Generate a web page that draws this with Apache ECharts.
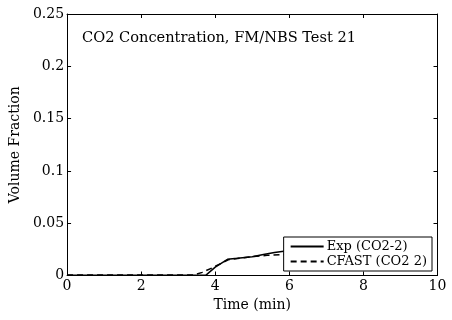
<!DOCTYPE html>
<html><head><meta charset="utf-8">
<script src="https://cdn.jsdelivr.net/npm/echarts@6/dist/echarts.min.js"></script>
<style>html,body{margin:0;padding:0;background:#fff}#c{width:452px;height:320px}</style>
</head><body><div id="c"></div>
<script>
const titleText = 'CO2 Concentration, FM/NBS Test 21';
const xLabel = 'Time (min)';
const yLabel = 'Volume Fraction';
const expName = 'Exp (CO2-2)';
const cfastName = 'CFAST (CO2 2)';
const expTime = [0, 1, 2, 3, 3.5, 3.75, 4.0, 4.33, 4.6, 5.0, 5.3, 5.6, 5.9, 6.0];
const expVal  = [0.0003, 0.0003, 0.0003, 0.0003, 0.0003, 0.0003, 0.008, 0.0155, 0.0165, 0.018, 0.020, 0.022, 0.0235, 0.0237];
const cfTime = [0, 1, 2, 3, 3.43, 3.65, 3.93, 4.15, 4.35, 4.6, 5.0, 5.4, 5.8, 6.0];
const cfVal  = [0.0005, 0.0005, 0.0005, 0.0005, 0.0005, 0.003, 0.0075, 0.0115, 0.015, 0.0163, 0.018, 0.0193, 0.0200, 0.0202];
const xTicks = [0, 2, 4, 6, 8, 10];
const yTicks = [0, 0.05, 0.1, 0.15, 0.2, 0.25];

const font = 'DejaVu Serif';
const fs = 14;
const chart = echarts.init(document.getElementById('c'), null, {renderer: 'canvas'});
const axCommon = {
  axisLine: {show: true, onZero: false, lineStyle: {color: '#000', width: 1}},
  axisTick: {show: true, inside: true, length: 4, lineStyle: {color: '#000'}},
  splitLine: {show: false}
};
chart.setOption({
  animation: false,
  backgroundColor: '#fff',
  grid: {left: 63, right: 14.5, top: 14, bottom: 44.5, containLabel: false},
  graphic: [{type: 'text', left: 82, top: 31, style: {text: titleText, font: '14.6px "' + font + '"', fill: '#000'}}],
  legend: {
    right: 20, top: 237, orient: 'vertical',
    backgroundColor: '#fff', borderColor: '#000', borderWidth: 1,
    padding: [3, 5, 3, 6], itemGap: 2, itemWidth: 33, itemHeight: 14,
    itemStyle: {opacity: 0},
    textStyle: {fontFamily: font, fontSize: 13, color: '#000', padding: [0, 0, 0, -2]},
    data: [expName, cfastName]
  },
  xAxis: [
    Object.assign({type: 'value', min: 0, max: 10, interval: 2, position: 'bottom',
      name: xLabel, nameLocation: 'middle', nameGap: 19,
      nameTextStyle: {fontFamily: font, fontSize: fs, color: '#000'},
      axisLabel: {fontFamily: font, fontSize: fs, color: '#000', margin: 4,
        formatter: v => xTicks.includes(v) ? String(v) : ''}}, axCommon),
    Object.assign({type: 'value', min: 0, max: 10, interval: 2, position: 'top', axisLabel: {show: false}}, axCommon)
  ],
  yAxis: [
    Object.assign({type: 'value', min: 0, max: 0.25, interval: 0.05, position: 'left',
      name: yLabel, nameLocation: 'middle', nameGap: 43,
      nameTextStyle: {fontFamily: font, fontSize: fs, color: '#000'},
      axisLabel: {fontFamily: font, fontSize: fs, color: '#000', margin: 3,
        formatter: v => { const t = yTicks.find(k => Math.abs(k - v) < 1e-9); return t === undefined ? '' : String(+t.toFixed(2)); }}}, axCommon),
    Object.assign({type: 'value', min: 0, max: 0.25, interval: 0.05, position: 'right', axisLabel: {show: false}}, axCommon)
  ],
  series: [
    {name: expName, type: 'line', symbol: 'none', data: expTime.map((t, i) => [t, expVal[i]]),
      lineStyle: {color: '#000', width: 1.5, type: 'solid'}, itemStyle: {color: '#000'}},
    {name: cfastName, type: 'line', symbol: 'none', data: cfTime.map((t, i) => [t, cfVal[i]]),
      lineStyle: {color: '#000', width: 1.5, type: [6, 4]}, itemStyle: {color: '#000'}}
  ]
});
</script></body></html>
